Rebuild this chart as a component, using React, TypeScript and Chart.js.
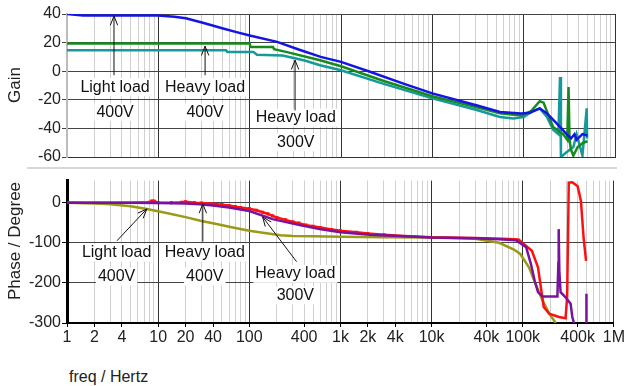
import React, { useEffect, useRef } from 'react';
import { Chart, registerables } from 'chart.js';

Chart.register(...registerables);

// ---------- tick labels ----------
const xTickValues = [1, 2, 4, 10, 20, 40, 100, 400, 1000, 2000, 4000, 10000, 40000, 100000, 400000, 1000000];
const xTickLabels = ['1', '2', '4', '10', '20', '40', '100', '400', '1k', '2k', '4k', '10k', '40k', '100k', '400k', '1M'];
const gainTickStep = 20;
const phaseLabelled = [0, -100, -200, -300];
const phaseGridValues = [-300, -250, -200, -150, -100, -50, 0, 55];

// ---------- Gain (dB) ----------
const gainBlueF = [1, 1.5, 3, 10, 15, 20, 30, 50, 70, 100, 200, 350, 600, 1000, 2000, 5000, 10000, 31000, 55000, 94000, 117000, 150000, 180000, 250000, 295000, 330000, 360000, 380000, 440000, 500000];
const gainBlue = [40, 39, 39, 39, 38, 37, 34, 30, 27.5, 25, 20.5, 15, 10, 6.5, 0, -9, -15.5, -24, -28.5, -29.5, -29, -26, -29.5, -39, -44, -47, -44, -48, -44, -45];

const gainGreenF = [1, 100, 102, 180, 185, 250, 590, 1000, 3000, 10000, 30000, 55000, 94000, 120000, 150000, 165000, 210000, 270000, 300000, 310000, 318000, 330000, 350000, 390000, 450000, 500000];
const gainGreen = [19.4, 19.4, 17, 17, 15.4, 13.5, 7.7, 3.5, -7, -17.5, -25, -29.5, -31, -28, -21, -22, -39, -44, -48, -11, -48, -55, -59, -53, -50, -49];

const gainTealF = [1, 55, 57, 110, 120, 230, 400, 590, 1000, 3000, 10000, 30000, 55000, 77000, 100000, 125000, 150000, 180000, 210000, 240000, 250000, 256000, 290000, 350000, 380000, 440000, 490000, 495000];
const gainTeal = [14.7, 14.7, 13.5, 13.5, 11.5, 11, 7.5, 4.2, 0.7, -9, -19, -27, -32, -33, -32, -28, -26, -32, -41, -44, -4, -60, -57, -53, -44, -59, -26, -47];

// ---------- Phase (degree) ----------
const phaseOliveF = [1, 2, 3, 5, 7.5, 12, 20, 29, 45, 66, 100, 154, 220, 300, 500, 1000, 3000, 10000, 30000, 55000, 80000, 94000, 117000, 138000, 165000, 195000, 230000];
const phaseOlive = [0, -2, -4, -9, -16, -25, -36, -45, -54, -62, -70, -76, -81, -83, -84, -85, -86, -87, -90, -100, -117, -128, -161, -202, -244, -276, -300];

const phaseRedF = [1, 5, 8, 8.5, 9, 10, 14, 18, 20, 25, 30, 35, 40, 50, 60, 70, 80, 100, 120, 140, 160, 180, 200, 250, 300, 350, 420, 500, 600, 800, 1000, 1500, 2000, 3000, 5000, 10000, 30000, 60000, 90000, 109000, 126000, 147000, 158000, 170000, 195000, 250000, 295000, 307000, 320000, 350000, 400000, 435000, 465000, 495000];
const phaseRed = [0, 0, 1, 4, 4, 0, 0, 1, 2, 0, -1, -2, -3, -5, -7, -10, -12, -15, -19, -24, -28, -33, -37, -43, -48, -51, -56, -59, -62, -67, -70, -74, -77, -80, -83, -86, -88, -90, -92, -108, -120, -161, -211, -260, -277, -285, -288, -235, 50, 51, 41, 4, -87, -145];

const phasePurpleF = [1, 5, 10, 20, 28.6, 40, 60, 100, 180, 357, 590, 1000, 2100, 5000, 10000, 30000, 55000, 85000, 109000, 123000, 135000, 147000, 165000, 240000, 246000, 248000, 252000, 260000, 295000, 335000, 350000, 365000, 420000, 500000, 500000];
const phasePurple: (number | null)[] = [0, 0, -1, -2, -4, -7, -12, -21, -41, -56, -66, -74, -80, -84, -87, -89, -91, -94, -111, -153, -194, -223, -234, -234, -150, -66, -169, -223, -236, -252, -285, -300, null, -227, -300];

// ---------- annotations (data coordinates) ----------
const gainNotes = {
  texts: [
    { f: 3.36, v: -11.2, t: 'Light load' },
    { f: 3.36, v: -28.6, t: '400V' },
    { f: 32.5, v: -11.2, t: 'Heavy load' },
    { f: 32.5, v: -28.6, t: '400V' },
    { f: 320, v: -32.5, t: 'Heavy load' },
    { f: 320, v: -49.6, t: '300V' },
  ],
  arrows: [
    { f1: 3.27, v1: -2.8, f2: 3.27, v2: 38.6 },
    { f1: 32.5, v1: -2.8, f2: 32.5, v2: 17.5 },
    { f1: 314, v1: -27.4, f2: 314, v2: 7.7 },
  ],
};
const phaseNotes = {
  texts: [
    { f: 3.5, v: -124.5, t: 'Light load' },
    { f: 3.5, v: -184, t: '400V' },
    { f: 32.5, v: -124.5, t: 'Heavy load' },
    { f: 32.5, v: -184, t: '400V' },
    { f: 320, v: -177.5, t: 'Heavy load' },
    { f: 320, v: -231, t: '300V' },
  ],
  arrows: [
    { f1: 3.53, v1: -95, f2: 7.52, v2: -15.6 },
    { f1: 30.9, v1: -97.4, f2: 30.9, v2: -3.2 },
    { f1: 330, v1: -147, f2: 140, v2: -35.5 },
  ],
};

const FONT = 'Arial, "Liberation Sans", sans-serif';
Chart.defaults.font.family = FONT;

const gridFreqs: number[] = [];
for (let k = 0; k < 6; k++) for (let m = 1; m < 10; m++) gridFreqs.push(m * Math.pow(10, k));
gridFreqs.push(1000000);

const isDecade = (v: number) => Math.abs(Math.log10(v) - Math.round(Math.log10(v))) < 1e-9;

const pts = (f: number[], v: (number | null)[]) => f.map((x, i) => ({ x, y: v[i] }));

function makeNotesPlugin(notes: any) {
  return {
    id: 'notes',
    afterDatasetsDraw(chart: any) {
      const { ctx, scales } = chart;
      const x = scales.x, y = scales.y;
      ctx.save();
      ctx.font = '16px ' + FONT;
      ctx.textAlign = 'center';
      ctx.textBaseline = 'middle';
      for (const n of notes.texts) {
        const px = x.getPixelForValue(n.f), py = y.getPixelForValue(n.v);
        const w = ctx.measureText(n.t).width;
        ctx.fillStyle = '#fff';
        ctx.fillRect(px - w / 2 - 2, py - 9, w + 4, 18);
        ctx.fillStyle = '#111';
        ctx.fillText(n.t, px, py);
      }
      ctx.strokeStyle = '#111';
      ctx.lineWidth = 1;
      for (const a of notes.arrows) {
        const x1 = x.getPixelForValue(a.f1), y1 = y.getPixelForValue(a.v1);
        const x2 = x.getPixelForValue(a.f2), y2 = y.getPixelForValue(a.v2);
        ctx.beginPath();
        ctx.moveTo(x1, y1);
        ctx.lineTo(x2, y2);
        const ang = Math.atan2(y2 - y1, x2 - x1);
        const L = 10, h = 0.38;
        ctx.moveTo(x2 - L * Math.cos(ang - h), y2 - L * Math.sin(ang - h));
        ctx.lineTo(x2, y2);
        ctx.lineTo(x2 - L * Math.cos(ang + h), y2 - L * Math.sin(ang + h));
        ctx.stroke();
      }
      ctx.restore();
    },
  };
}

const xScaleBase = (showTicks: boolean, height: number, topPanel: boolean) => ({
  type: 'logarithmic',
  min: 1,
  max: 1000000,
  afterBuildTicks: (s: any) => {
    s.ticks = gridFreqs.map((v) => ({ value: v }));
  },
  afterFit: (s: any) => {
    s.height = height;
  },
  ticks: {
    display: showTicks,
    autoSkip: false,
    maxRotation: 0,
    minRotation: 0,
    color: '#222',
    font: { size: 16 },
    padding: 1,
    callback: (val: number) => {
      const i = xTickValues.indexOf(val);
      return i >= 0 ? xTickLabels[i] : '';
    },
  },
  grid: {
    color: (c: any) => {
      const v = c.tick ? c.tick.value : 0;
      if (topPanel && v === 1) return '#bbb';
      return isDecade(v) ? '#333' : '#d0d0d0';
    },
    lineWidth: 1,
    drawTicks: showTicks,
    tickLength: 4,
    tickColor: (c: any) => (c.tick && xTickValues.indexOf(c.tick.value) >= 0 ? '#000' : 'rgba(0,0,0,0)'),
  },
  border: topPanel ? { display: true, color: '#333', width: 1 } : { display: true, color: '#000', width: 2 },
});

export default function App() {
  const topRef = useRef<HTMLCanvasElement>(null);
  const botRef = useRef<HTMLCanvasElement>(null);

  useEffect(() => {
    // first dataset is drawn on top
    const top = new Chart(topRef.current as HTMLCanvasElement, {
      type: 'line',
      data: {
        datasets: [
          { data: pts(gainBlueF, gainBlue), borderColor: '#1414e6', borderWidth: 2.5, pointRadius: 0, tension: 0 },
          { data: pts(gainGreenF, gainGreen), borderColor: '#168a1c', borderWidth: 2.5, pointRadius: 0, tension: 0 },
          { data: pts(gainTealF, gainTeal), borderColor: '#16999a', borderWidth: 2.5, pointRadius: 0, tension: 0 },
        ],
      } as any,
      options: {
        responsive: false,
        animation: false,
        layout: { padding: { top: 14, right: 11, left: 0, bottom: 0 } },
        plugins: { legend: { display: false }, tooltip: { enabled: false } },
        scales: {
          x: xScaleBase(false, 11, true) as any,
          y: {
            min: -60,
            max: 40,
            afterFit: (s: any) => {
              s.width = 67;
            },
            ticks: { stepSize: gainTickStep, color: '#222', font: { size: 16 }, padding: 1 },
            grid: { color: '#444', tickLength: 5, tickColor: '#444' },
            border: { color: '#bbb', width: 2 },
          },
        },
      } as any,
      plugins: [makeNotesPlugin(gainNotes)],
    });

    const bot = new Chart(botRef.current as HTMLCanvasElement, {
      type: 'line',
      data: {
        datasets: [
          { data: pts(phasePurpleF, phasePurple), borderColor: '#7a12a0', borderWidth: 2.5, pointRadius: 0, tension: 0 },
          {
            data: pts(phaseRedF, phaseRed),
            borderColor: '#ff1010',
            backgroundColor: '#ff1010',
            borderWidth: 2.5,
            pointStyle: 'rect',
            pointBorderWidth: 0,
            pointRadius: (c: any) => (c.raw && c.raw.x >= 8 && c.raw.x <= 3000 ? 2.2 : 0),
            tension: 0,
          },
          { data: pts(phaseOliveF, phaseOlive), borderColor: '#9a9a14', borderWidth: 2.5, pointRadius: 0, tension: 0 },
        ],
      } as any,
      options: {
        responsive: false,
        animation: false,
        layout: { padding: { top: 9, right: 11, left: 0, bottom: 0 } },
        plugins: { legend: { display: false }, tooltip: { enabled: false } },
        scales: {
          x: xScaleBase(true, 37, false) as any,
          y: {
            min: -300,
            max: 55,
            afterFit: (s: any) => {
              s.width = 67;
            },
            afterBuildTicks: (s: any) => {
              s.ticks = phaseGridValues.map((v) => ({ value: v }));
            },
            ticks: {
              color: '#222',
              font: { size: 16 },
              padding: 1,
              callback: (v: number) => (phaseLabelled.indexOf(v) >= 0 ? String(v) : ''),
            },
            grid: {
              color: '#444',
              tickLength: 5,
              tickColor: (c: any) => (c.tick && phaseLabelled.indexOf(c.tick.value) >= 0 ? '#000' : 'rgba(0,0,0,0)'),
            },
            border: { color: '#000', width: 3 },
          },
        },
      } as any,
      plugins: [makeNotesPlugin(phaseNotes)],
    });

    return () => {
      top.destroy();
      bot.destroy();
    };
  }, []);

  const titleStyle: React.CSSProperties = {
    position: 'absolute',
    transform: 'translate(-50%, -50%) rotate(-90deg)',
    whiteSpace: 'nowrap',
    fontFamily: FONT,
    fontSize: 17,
    color: '#222',
  };

  return (
    <div style={{ position: 'absolute', left: 0, top: 0, width: 626, height: 386, background: '#fff', overflow: 'hidden' }}>
      <canvas ref={topRef} width={626} height={168} style={{ position: 'absolute', left: 0, top: 0, display: 'block' }} />
      <div style={{ position: 'absolute', left: 27, top: 167, width: 590, height: 2, background: '#d8d8d8' }} />
      <canvas ref={botRef} width={626} height={190} style={{ position: 'absolute', left: 0, top: 170, display: 'block' }} />
      <div style={{ ...titleStyle, left: 15, top: 85 }}>Gain</div>
      <div style={{ ...titleStyle, left: 15, top: 241 }}>Phase / Degree</div>
      <div style={{ position: 'absolute', left: 69, top: 368, fontFamily: FONT, fontSize: 16, color: '#222', whiteSpace: 'nowrap' }}>freq / Hertz</div>
    </div>
  );
}
